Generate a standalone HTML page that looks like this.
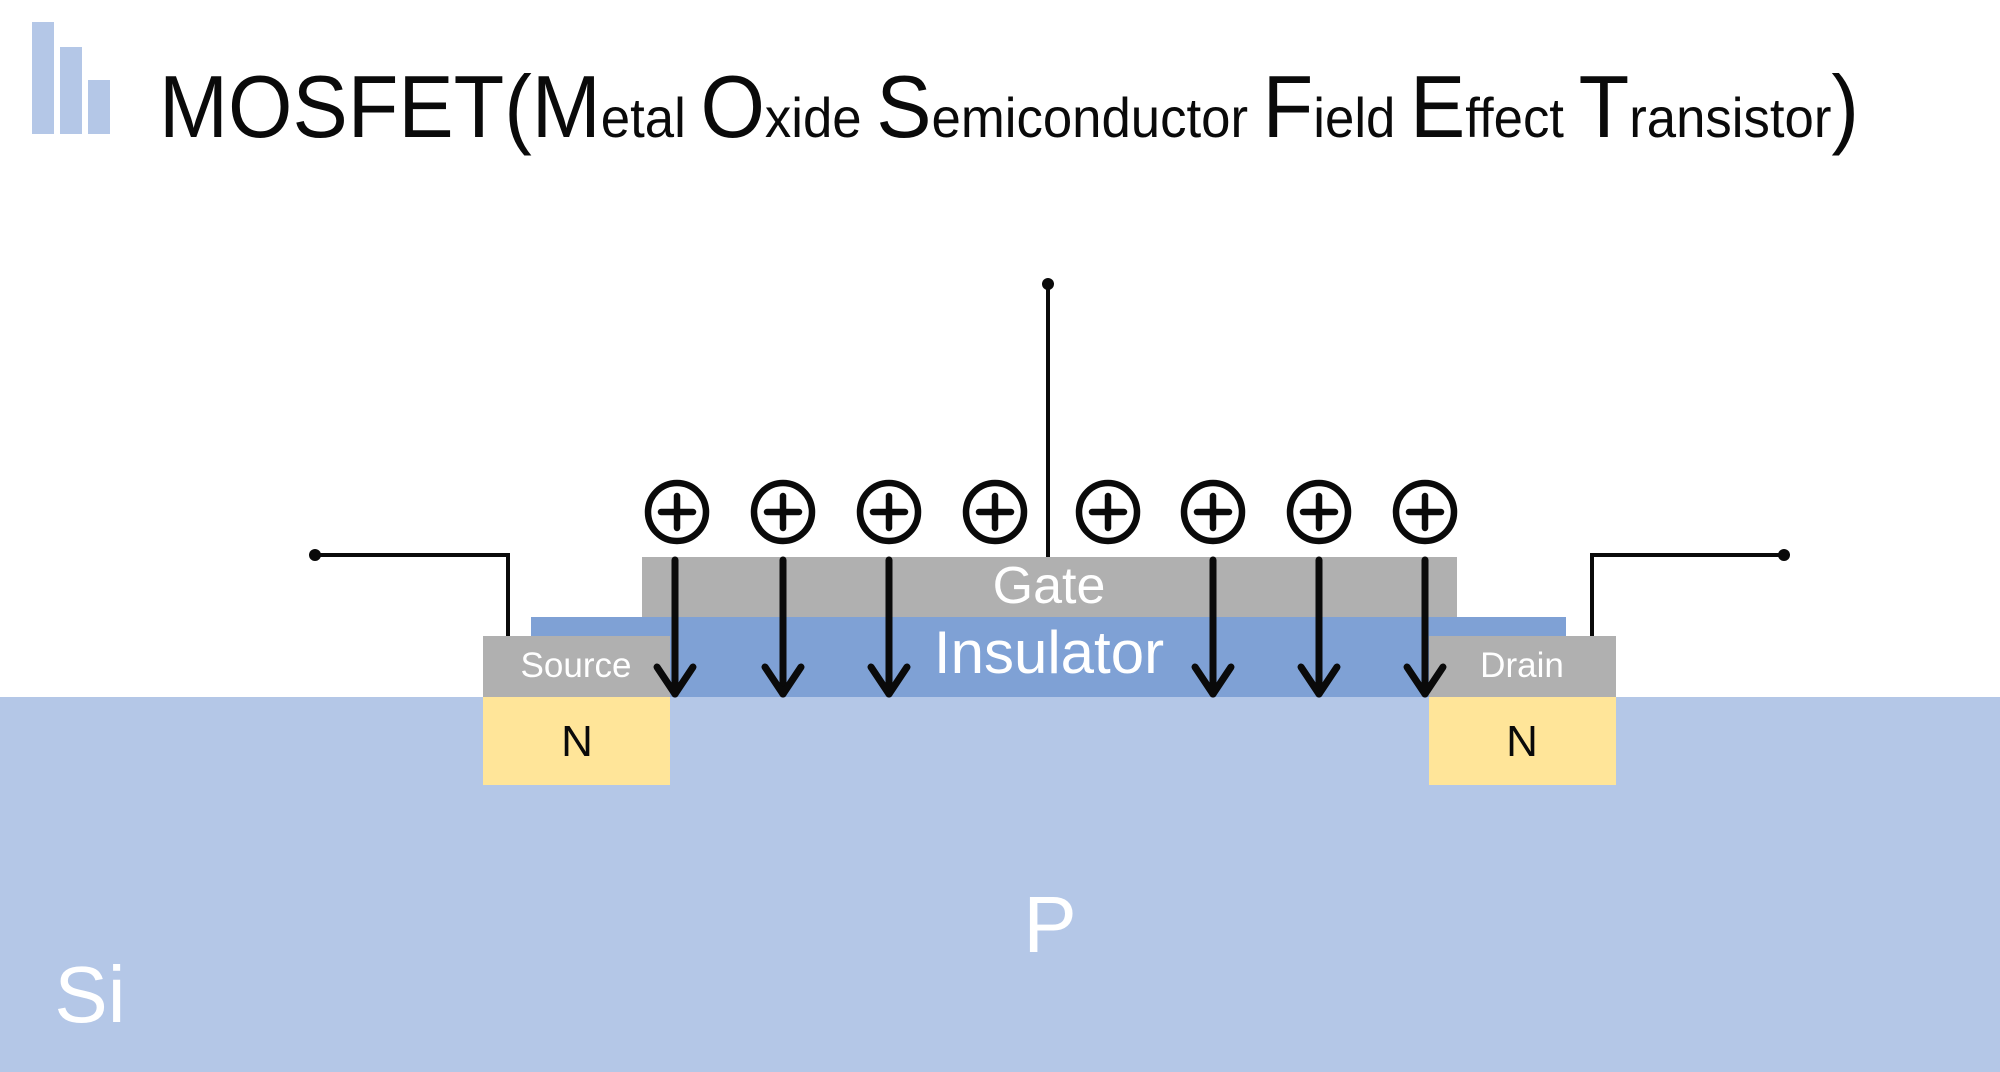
<!DOCTYPE html>
<html><head><meta charset="utf-8"><style>
html,body{margin:0;padding:0;background:#fff;}
svg{display:block;}
text{font-family:"Liberation Sans","NanumGothic",sans-serif;}
</style></head><body>
<svg width="2000" height="1072" viewBox="0 0 2000 1072" xmlns="http://www.w3.org/2000/svg">
<rect x="0" y="0" width="2000" height="1072" fill="#fff"/>
<rect x="32" y="22" width="22" height="112" fill="#b4c7e7"/>
<rect x="60" y="47" width="22" height="87" fill="#b4c7e7"/>
<rect x="88" y="80" width="22" height="54" fill="#b4c7e7"/>
<text x="159" y="137" font-size="88" fill="#0a0a0a" textLength="1700" lengthAdjust="spacingAndGlyphs">MOSFET(M<tspan font-size="56">etal </tspan>O<tspan font-size="56">xide </tspan>S<tspan font-size="56">emiconductor </tspan>F<tspan font-size="56">ield </tspan>E<tspan font-size="56">ffect </tspan>T<tspan font-size="56">ransistor</tspan>)</text>
<rect x="0" y="697" width="2000" height="375" fill="#b4c7e7"/>
<rect x="483" y="697" width="187" height="88" fill="#ffe599"/>
<rect x="1429" y="697" width="187" height="88" fill="#ffe599"/>
<rect x="531" y="617" width="1035" height="80" fill="#7fa1d5"/>
<rect x="642" y="557" width="815" height="60" fill="#b0b0b0"/>
<rect x="483" y="636" width="187" height="61" fill="#b0b0b0"/>
<rect x="1429" y="636" width="187" height="61" fill="#b0b0b0"/>
<g stroke="#0a0a0a" stroke-width="4" fill="none">
<line x1="1048" y1="284" x2="1048" y2="557"/>
<polyline points="315,555 508,555 508,636"/>
<polyline points="1784,555 1592,555 1592,636"/>
</g>
<g fill="#0a0a0a">
<circle cx="1048" cy="284" r="6"/>
<circle cx="315" cy="555" r="6"/>
<circle cx="1784" cy="555" r="6"/>
</g>
<g stroke="#0a0a0a" stroke-width="6.5" fill="none" stroke-linecap="round">
<g id="p"><circle cx="677" cy="512" r="29"/><line x1="661" y1="512" x2="693" y2="512"/><line x1="677" y1="496" x2="677" y2="528"/></g>
<use href="#p" x="106"/><use href="#p" x="212"/><use href="#p" x="318"/>
<use href="#p" x="431"/><use href="#p" x="536"/><use href="#p" x="642"/><use href="#p" x="748"/>
</g>
<g stroke="#0a0a0a" stroke-width="7" fill="none" stroke-linecap="round" stroke-linejoin="round">
<g id="a"><line x1="675" y1="560" x2="675" y2="694"/><polyline points="657,667 675,694 693,667"/></g>
<use href="#a" x="108"/><use href="#a" x="214"/><use href="#a" x="538"/><use href="#a" x="644"/><use href="#a" x="750"/>
</g>
<g fill="#fff" text-anchor="middle">
<text x="1049" y="603" font-size="52">Gate</text>
<text x="1049" y="673" font-size="60">Insulator</text>
<text x="576" y="677" font-size="35">Source</text>
<text x="1522" y="677" font-size="35">Drain</text>
<text x="1050" y="952" font-size="80">P</text>
<text x="90" y="1022" font-size="80">Si</text>
</g>
<g fill="#0a0a0a" text-anchor="middle" font-size="44">
<text x="577" y="756">N</text>
<text x="1522" y="756">N</text>
</g>
</svg>
</body></html>
